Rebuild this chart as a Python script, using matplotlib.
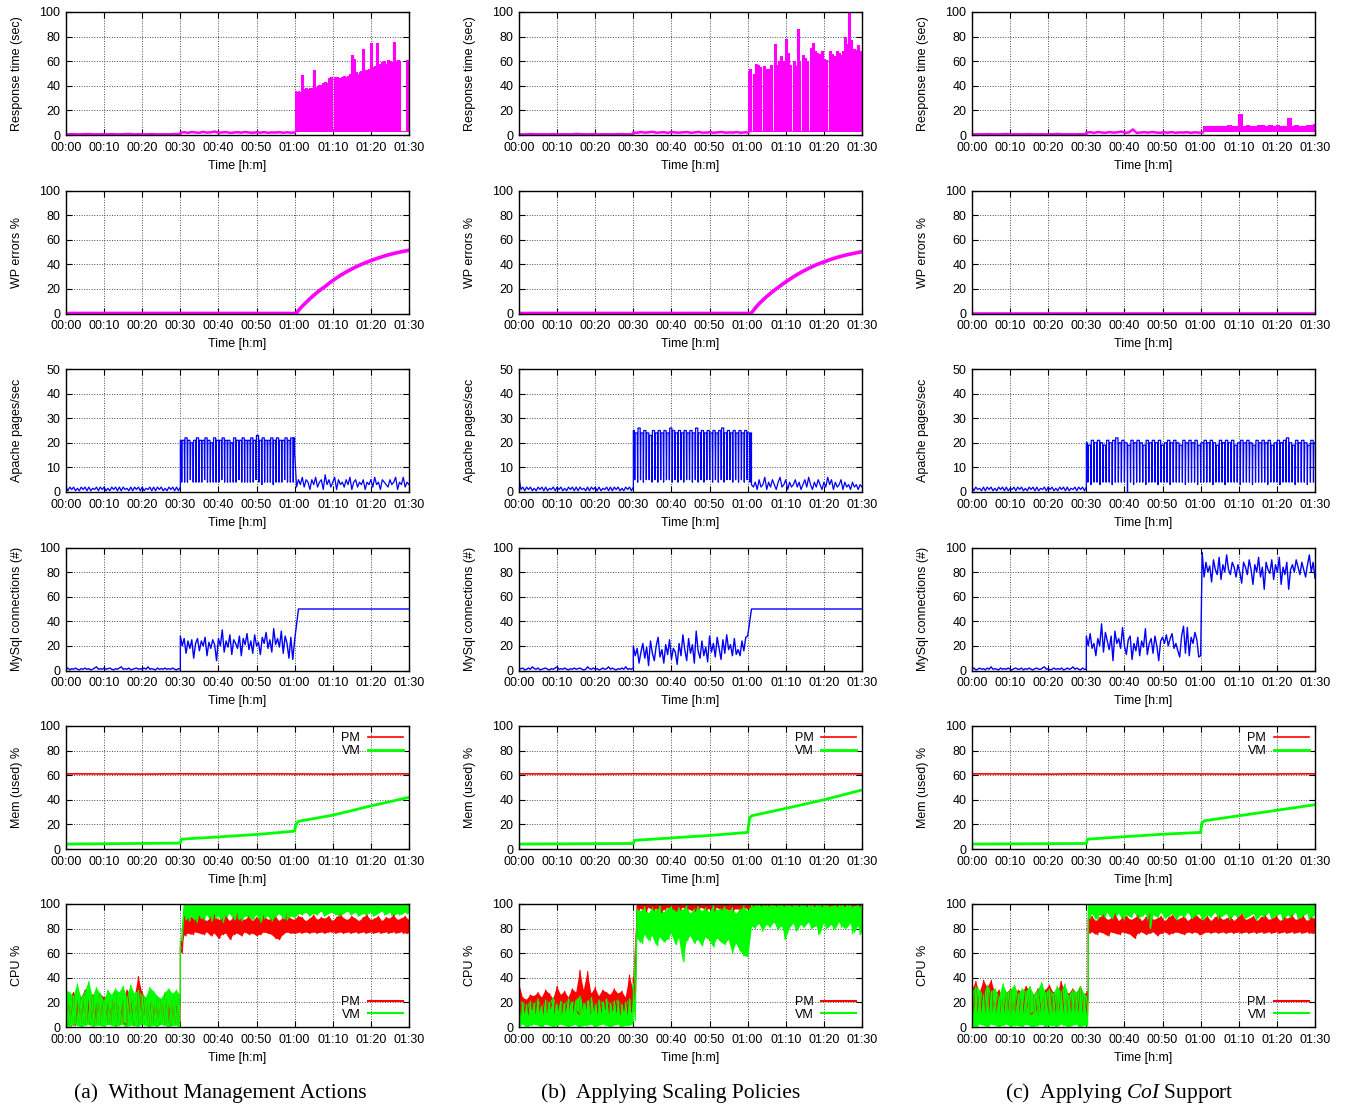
import numpy as np
import matplotlib
matplotlib.use('Agg')
import matplotlib.pyplot as plt

plt.rcParams['font.family'] = 'Liberation Sans'
plt.rcParams['mathtext.fontset'] = 'custom'
plt.rcParams['mathtext.rm'] = 'Liberation Serif'
plt.rcParams['mathtext.it'] = 'Liberation Serif:italic'

MAG = '#ff00ff'
BLUE = '#0000ff'
RED = '#ff0000'
GREEN = '#00ff00'

tick_min = [0, 10, 20, 30, 40, 50, 60, 70, 80, 90]
tick_labels = ['00:00', '00:10', '00:20', '00:30', '00:40', '00:50',
               '01:00', '01:10', '01:20', '01:30']
captions = ['(a)  Without Management Actions',
            '(b)  Applying Scaling Policies',
            '(c)  Applying $\\mathit{CoI}$ Support']

# ---------------- response time (sec) ----------------
rt_a_idle = [0.5, 0.7, 0.5, 0.6, 0.8, 0.5, 0.6, 0.5, 0.7, 0.5, 0.6, 0.9, 0.5, 0.6, 0.5, 0.7, 0.5, 0.6, 0.5, 0.8, 0.6]
rt_a_mid = [1.8, 2.3, 1.7, 2.5, 2.0, 1.8, 2.6, 1.9, 2.2, 2.8, 1.8, 2.1, 2.4, 1.7, 2.0, 2.3,
            1.9, 2.5, 2.0, 1.8, 2.2, 1.9, 2.4, 1.8, 2.1, 2.0, 2.3, 1.8, 2.2, 1.9, 2.0]
rt_a_peak = [36, 35, 36, 35, 49, 37, 38, 37, 38, 38, 53, 39, 40, 41, 41, 42, 43, 42, 46, 47,
             4, 47, 47, 4, 46, 47, 48, 47, 48, 50, 65, 62, 51, 50, 51, 52, 70, 53, 53, 54,
             75, 55, 56, 75, 57, 58, 59, 60, 58, 61, 60, 59, 76, 60, 61, 60, 3, 3, 3, 61, 61]
rt_b_idle = [0.6, 0.5, 0.8, 0.5, 0.6, 0.5, 0.7, 0.5, 0.6, 0.5, 0.9, 0.6, 0.5, 0.7, 0.5, 0.6, 0.5, 0.6, 0.8, 0.5, 0.6]
rt_b_mid = [2.0, 1.8, 2.4, 1.9, 2.2, 2.6, 1.8, 2.1, 2.3, 1.7, 2.5, 2.0, 1.9, 2.2, 2.4, 1.8,
            2.1, 2.6, 1.9, 2.0, 2.3, 1.8, 2.2, 2.5, 1.9, 2.1, 2.0, 2.4, 1.8, 2.2, 2.0]
rt_b_peak = [52, 54, 3, 50, 58, 57, 55, 3, 56, 52, 54, 54, 57, 3, 74, 57, 60, 64, 3, 60,
             78, 67, 57, 3, 60, 56, 86, 59, 3, 65, 63, 60, 3, 71, 75, 68, 67, 3, 66, 68,
             62, 61, 3, 68, 66, 64, 3, 68, 67, 65, 68, 80, 74, 100, 77, 3, 70, 69, 73, 68, 67]
rt_c_idle = [0.5, 0.6, 0.5, 0.7, 0.5, 0.6, 0.8, 0.5, 0.6, 0.5, 0.7, 0.5, 0.6, 0.5, 0.6, 0.9, 0.5, 0.6, 0.5, 0.7, 0.6]
rt_c_mid = [1.8, 2.3, 1.7, 2.5, 2.0, 1.8, 2.4, 1.9, 2.2, 2.8, 1.8, 2.1, 4.5, 1.7, 2.0, 2.3,
            1.9, 2.5, 2.0, 1.8, 2.2, 1.9, 2.4, 1.8, 2.1, 2.0, 2.3, 1.8, 2.2, 1.9, 2.0]
rt_c_peak = [7, 7, 7.5, 7, 7, 7.5, 7, 8, 7, 7.5, 17, 7.5, 8, 7.5, 7, 8.5, 8, 7.5, 8, 7.5,
             8, 7.5, 7.5, 14, 7.5, 8.5, 7.5, 7, 8, 8.5, 9]
rt_floor = 2.5

# ---------------- WP errors % ----------------
wp_a_min = [0, 60.4, 61, 62, 63, 64, 65, 66, 67, 68, 69, 70, 72, 74, 76, 78, 80, 82, 84, 86, 88, 90]
wp_a_pct = [0, 0, 2.5, 6, 9, 12, 14.8, 17.4, 19.8, 22, 24.5, 26.8, 31, 34.6, 37.8, 40.6, 43, 45.2, 47.2, 48.8, 50.2, 51.4]
wp_b_min = [0, 60.8, 61.4, 62, 63, 64, 65, 66, 67, 68, 69, 70, 72, 74, 76, 78, 80, 82, 84, 86, 88, 90]
wp_b_pct = [0, 0, 2, 4.5, 8, 11, 13.8, 16.4, 18.9, 21.2, 23.5, 25.7, 29.8, 33.5, 36.7, 39.6, 42, 44.2, 46.1, 47.7, 49, 50.3]
wp_c_min = [0, 90]
wp_c_pct = [0, 0]

# ---------------- Apache pages/sec ----------------
ap_a_idle = [2, 0.5, 2, 1, 2, 0.5, 1.5, 0.5, 2, 1, 2, 0.5, 2, 0.5, 1.5, 1, 2, 0.5, 2, 1, 2, 0.5, 1.5, 0.5,
             2, 1, 2, 0.5, 2, 0.5, 2, 1, 1.5, 0.5, 2, 0.5, 2, 1, 2, 0.5, 2, 0.5, 1.5, 1, 2, 0.5, 2, 0.5,
             2, 1, 2, 0.5, 1.5, 0.5, 2, 1, 2, 0.5, 2, 0.5, 2]
# plateau levels between the drops, and the bottom of each drop
ap_a_busy_hi = [21, 21, 22, 21, 20, 21, 22, 21, 21, 22, 21, 20, 22, 21, 21, 22, 21, 21, 20, 22, 21,
                21, 22, 21, 21, 22, 21, 23, 21, 22, 21, 21, 22, 21, 22, 21, 21, 22, 21, 22, 22]
ap_a_busy_lo = [4, 4, 4, 5, 4, 4, 4, 4, 5, 4, 4, 4, 4, 4, 5, 4, 4, 4, 4, 4, 5, 4, 4, 4, 4, 4, 5, 4,
                3, 4, 4, 4, 3, 4, 4, 4, 5, 4, 4, 4]
ap_a_after = [16, 2, 5, 3, 6, 2, 5, 4, 1, 5, 3, 6, 2, 4, 5, 1, 7, 3, 5, 2, 4, 6, 1, 5, 3, 4, 2, 5, 3, 6,
              1, 4, 5, 2, 4, 3, 5, 1, 4, 3, 5, 2, 6, 3, 4, 1, 5, 4, 3, 2, 5, 3, 4, 6, 1, 4, 3, 6, 2, 4, 3]
ap_b_idle = [6, 1, 2, 0.5, 2, 1, 2, 0.5, 1.5, 0.5, 2, 1, 2, 0.5, 2, 0.5, 1.5, 1, 2, 0.5, 2, 1, 2, 0.5,
             1.5, 0.5, 2, 1, 2, 0.5, 2, 0.5, 2, 1, 1.5, 0.5, 2, 0.5, 2, 1, 2, 0.5, 2, 0.5, 1.5, 1, 2,
             0.5, 2, 0.5, 2, 1, 2, 0.5, 1.5, 0.5, 2, 1, 2, 0.5, 2]
ap_b_busy_hi = [25, 24, 26, 24, 25, 24, 23, 25, 24, 25, 24, 25, 24, 26, 25, 24, 25, 24, 25, 24, 25,
                24, 26, 24, 25, 24, 25, 24, 25, 24, 25, 26, 24, 25, 24, 25, 24, 25, 24, 25, 24, 24]
ap_b_busy_lo = [5, 4, 5, 4, 5, 5, 4, 5, 4, 5, 4, 5, 5, 4, 5, 4, 5, 4, 5, 5, 4, 5, 4, 5, 4, 5, 5, 4,
                5, 4, 5, 4, 5, 5, 4, 5, 4, 5, 4, 5, 4]
ap_b_after = [3, 2, 4, 1, 5, 2, 3, 6, 1, 4, 2, 5, 3, 1, 4, 6, 2, 3, 5, 1, 4, 2, 3, 5, 2, 4, 1, 3, 5, 2,
              6, 3, 1, 4, 2, 5, 3, 1, 4, 2, 6, 3, 5, 1, 4, 2, 3, 5, 1, 4, 2, 3, 1, 4, 2, 3, 1, 3, 2]
ap_c_idle = [2, 0.5, 2, 1, 1.5, 0.5, 2, 0.5, 2, 1, 2, 0.5, 1.5, 0.5, 2, 1, 2, 0.5, 2, 0.5, 1.5, 1, 2, 0.5,
             2, 1, 2, 0.5, 1.5, 0.5, 2, 1, 2, 0.5, 2, 0.5, 1.5, 1, 2, 0.5, 2, 1, 2, 0.5, 1.5, 0.5, 2, 1,
             2, 0.5, 2, 0.5, 1.5, 1, 2, 0.5, 2, 1, 2, 0.5, 2]
ap_c_busy_hi = [20, 19, 21, 20, 21, 20, 19, 21, 20, 21, 22, 20, 21, 20, 19, 21, 20, 21, 20, 19, 21,
                20, 21, 20, 21, 19, 20, 21, 20, 21, 20, 19, 21, 20, 21, 20, 21, 19, 20, 21, 20, 21,
                20, 19, 21, 20, 21, 20, 21, 19, 20, 21, 20, 21, 20, 19, 21, 20, 21, 20, 21, 19, 20,
                21, 20, 21, 22, 20, 19, 21, 20, 21, 20, 19, 21, 20]
ap_c_busy_lo = [4, 3, 4, 4, 3, 4, 4, 4, 3, 4, 4, 4, 4, 0, 4, 3, 4, 4, 4, 3, 4, 4, 4, 3, 4, 4, 4, 3,
                4, 4, 4, 4, 3, 4, 4, 4, 3, 4, 4, 4, 4, 3, 4, 4, 4, 3, 4, 4, 4, 4, 3, 4, 4, 4, 3, 4,
                4, 4, 4, 3, 4, 4, 4, 3, 4, 4, 4, 4, 3, 4, 4, 4, 3, 4, 4]

# ---------------- MySQL connections (#) ----------------
my_a_idle = [1, 2, 0.5, 1.5, 1, 2, 1, 0.5, 1.5, 1, 2, 1, 1.5, 0.5, 1, 2, 3, 1, 1.5, 1, 2, 1, 1.5, 2,
             1, 0.5, 1.5, 1, 2, 3, 1, 1.5, 1, 2, 0.5, 1, 1.5, 2, 1, 1.5, 1, 2, 1, 3, 1, 1.5, 1, 0.5,
             2, 1, 1.5, 1, 2, 1, 1.5, 1, 2, 1, 0.5, 1.5, 1]
my_a_busy = [28, 20, 26, 14, 24, 18, 25, 10, 22, 26, 16, 24, 20, 27, 12, 23, 18, 25, 21, 8, 26, 20,
             33, 15, 24, 19, 29, 13, 25, 22, 18, 28, 12, 26, 21, 30, 17, 24, 14, 29, 20, 23, 13, 27,
             22, 31, 18, 25, 15, 34, 21, 26, 19, 32, 14, 28, 22, 10, 27, 9, 25]
my_a_ramp = [25, 50]
my_a_flat = [50, 50]
my_b_idle = [1, 1.5, 2, 0.5, 1, 2, 1, 3, 1.5, 1, 2, 0.5, 1, 1.5, 2, 1, 0.5, 1.5, 1, 2, 3, 1, 1.5, 1,
             2, 1, 0.5, 1.5, 1, 2, 1, 1.5, 2, 1, 0.5, 1, 3, 1.5, 1, 2, 1, 1.5, 0.5, 1, 2, 1, 1.5, 3,
             1, 2, 1, 0.5, 1.5, 1, 2, 1, 3, 1, 1.5, 1, 2]
my_b_busy = [20, 12, 18, 6, 15, 22, 10, 19, 4, 24, 14, 8, 20, 27, 11, 17, 6, 21, 13, 25, 9, 18, 15, 5,
             22, 12, 29, 17, 8, 26, 14, 21, 6, 32, 16, 10, 24, 12, 19, 7, 28, 15, 22, 11, 27, 18, 9,
             25, 14, 29, 17, 21, 12, 26, 13, 17, 12, 24, 16, 27, 28]
my_b_ramp = [28, 50]
my_b_flat = [50, 50]
my_c_idle = [1, 2, 0.5, 1, 2, 1, 1.5, 0.5, 2, 1, 3, 1, 1.5, 1, 0.5, 2, 1, 1.5, 1, 2, 1, 0.5, 1.5, 2,
             1, 1, 2, 0.5, 1.5, 1, 2, 1, 0.5, 1.5, 2, 1, 1, 2, 3, 1, 1.5, 0.5, 1, 2, 1, 1.5, 1, 2,
             0.5, 1, 2, 1, 1.5, 3, 1, 2, 1, 0.5, 2, 1, 1]
my_c_busy = [28, 20, 30, 18, 22, 12, 26, 20, 38, 15, 31, 24, 17, 28, 8, 32, 22, 26, 18, 35, 20, 13,
             25, 28, 9, 22, 16, 27, 12, 24, 19, 34, 13, 22, 26, 14, 28, 20, 8, 24, 27, 22, 29, 20,
             26, 30, 18, 22, 16, 11, 28, 36, 14, 35, 12, 27, 22, 31, 25, 11, 12]
my_c_after = [96, 76, 88, 80, 85, 72, 90, 82, 78, 92, 74, 86, 80, 94, 82, 78, 88, 84, 76, 86, 80, 71,
              88, 84, 78, 90, 82, 70, 86, 80, 92, 76, 84, 66, 88, 82, 79, 90, 74, 86, 80, 92, 70, 84,
              78, 88, 66, 82, 86, 80, 90, 84, 78, 88, 82, 76, 86, 94, 80, 88, 75]

# ---------------- memory used % ----------------
mem_pm = [61.1, 61.0, 60.9, 61.1, 61.0, 61.1, 61.0, 60.9, 61.0, 61.1]
mem_vm_a_min = [0, 30, 30.2, 40, 50, 60, 60.3, 61, 70, 80, 90]
mem_vm_a = [4, 4.8, 8, 9.8, 11.8, 14.5, 20, 22.5, 27.5, 35, 42]
mem_vm_b_min = [0, 30, 30.3, 40, 50, 60, 60.5, 61, 70, 80, 90]
mem_vm_b = [4, 4.5, 7, 9, 11, 13.5, 25, 27, 33, 40, 48]
mem_vm_c_min = [0, 30, 30.3, 40, 50, 60, 60.3, 61, 70, 80, 90]
mem_vm_c = [4, 4.5, 8, 10, 12, 13.5, 21, 23, 27, 31.5, 36]

# ---------------- CPU % (upper / lower envelope of the noise) ----------------
cpu_pm_a_hi1 = [22, 25, 28, 21, 24, 30, 22, 26, 20, 27, 24, 21, 23, 28, 25, 22, 30, 27, 24, 41, 28,
                23, 26, 20, 24, 22, 27, 19, 25, 23, 24]
cpu_pm_a_lo1 = [2, 3, 1, 4, 2, 3, 2, 1, 3, 2, 4, 2, 3, 1, 2, 3, 2, 4, 1, 3, 2, 3, 1, 2, 4, 2, 3, 2, 1, 3, 2]
cpu_pm_a_hi2 = [65, 90, 88, 89, 87, 90, 88, 86, 89, 91, 87, 88, 90, 86, 89, 92, 88, 87, 90, 86, 89, 88,
                91, 87, 88, 90, 86, 89, 92, 88, 87, 90, 89, 86, 88, 91, 87, 89, 88, 90, 86, 89, 92, 88,
                87, 90, 88, 86, 89, 91, 87, 88, 90, 86, 89, 88, 91, 87, 88, 90, 87]
cpu_pm_a_lo2 = [60, 74, 76, 75, 77, 76, 75, 77, 74, 76, 72, 75, 76, 71, 75, 76, 74, 77, 75, 76, 74, 75,
                77, 76, 75, 72, 71, 75, 77, 76, 76, 77, 76, 77, 76, 77, 76, 77, 76, 77, 77, 76, 77, 76,
                77, 76, 77, 76, 77, 76, 77, 76, 77, 76, 77, 76, 77, 76, 77, 76, 76]
cpu_vm_a_hi1 = [30, 28, 25, 35, 24, 29, 37, 25, 32, 27, 22, 30, 26, 31, 28, 33, 25, 34, 27, 30, 26,
                24, 32, 29, 25, 23, 28, 31, 27, 30, 26]
cpu_vm_a_lo1 = [1, 0, 2, 1, 0, 1, 2, 0, 1, 1, 0, 2, 1, 0, 1, 2, 0, 1, 1, 0, 2, 1, 0, 1, 0, 2, 1, 0, 1, 1, 0]
cpu_vm_a_hi2 = [70, 100, 99, 100, 99.5, 100, 99, 100, 99.5, 100, 99, 100, 99.5, 100, 99, 100, 99.5,
                100, 99, 100, 99.5, 100, 99, 100, 99.5, 100, 99, 100, 99.5, 100, 99, 100, 99.5, 100,
                99, 100, 99.5, 100, 99, 100, 99.5, 100, 99, 100, 99.5, 100, 99, 100, 99.5, 100, 99,
                100, 99.5, 100, 99, 100, 99.5, 100, 99, 100, 99.5]
cpu_vm_a_lo2 = [70, 88, 86, 90, 85, 89, 87, 91, 86, 88, 90, 85, 89, 92, 87, 88, 86, 90, 89, 87, 91,
                85, 88, 90, 86, 89, 92, 88, 87, 90, 89, 92, 91, 93, 90, 92, 91, 94, 90, 92, 93, 91,
                90, 92, 94, 91, 93, 90, 92, 91, 93, 90, 92, 94, 91, 93, 90, 92, 91, 93, 92]

cpu_pm_b_hi1 = [36, 24, 22, 26, 25, 28, 24, 30, 27, 23, 33, 26, 29, 24, 31, 28, 46, 30, 45, 27, 32,
                25, 30, 28, 26, 31, 27, 29, 24, 42, 30]
cpu_pm_b_lo1 = [8, 12, 10, 14, 11, 13, 10, 12, 15, 11, 13, 10, 12, 14, 11, 13, 10, 12, 14, 11, 13,
                10, 12, 14, 11, 13, 12, 10, 13, 11, 12]
cpu_pm_b_hi2 = [40, 100, 100, 100, 100, 100, 100, 100, 100, 100, 100, 100, 100, 100, 100, 100, 100,
                100, 100, 100, 100, 100, 100, 100, 100, 100, 100, 100, 100, 100, 100, 100, 100, 100,
                100, 100, 100, 100, 100, 100, 100, 100, 100, 100, 100, 100, 100, 100, 100, 100, 100,
                100, 100, 100, 100, 100, 100, 100, 100, 100, 100]
cpu_pm_b_lo2 = [20, 95, 96, 94, 97, 95, 96, 93, 95, 97, 96, 94, 95, 97, 96, 95, 94, 96, 97, 95, 96,
                94, 97, 95, 96, 95, 94, 96, 95, 97, 96, 98, 98, 99, 98, 99, 98, 99, 98, 99, 98, 99,
                98, 99, 98, 99, 98, 99, 98, 99, 98, 99, 98, 99, 98, 99, 98, 99, 98, 99, 98]
cpu_vm_b_hi1 = [22, 20, 18, 21, 19, 23, 17, 22, 20, 24, 18, 21, 19, 23, 20, 22, 25, 19, 21, 24, 18,
                22, 20, 23, 19, 21, 22, 18, 20, 23, 21]
cpu_vm_b_lo1 = [1, 2, 0, 1, 2, 1, 0, 2, 1, 0, 1, 2, 1, 0, 1, 2, 0, 1, 1, 2, 0, 1, 2, 1, 0, 1, 2, 0, 1, 1, 2]
cpu_vm_b_hi2 = [35, 96, 94, 98, 92, 97, 95, 99, 93, 96, 98, 94, 97, 95, 99, 92, 96, 98, 94, 97, 93,
                99, 95, 96, 98, 94, 97, 92, 96, 99, 94, 99, 100, 99, 100, 98, 100, 99, 100, 99, 100,
                98, 100, 99, 100, 99, 100, 98, 100, 99, 100, 99, 98, 100, 99, 100, 99, 100, 98, 100, 99]
cpu_vm_b_lo2 = [5, 72, 68, 75, 70, 74, 66, 73, 69, 71, 76, 67, 72, 53, 70, 74, 68, 71, 66, 73, 70,
                65, 72, 69, 67, 71, 60, 68, 62, 58, 57, 82, 80, 84, 78, 83, 81, 85, 79, 82, 71, 80,
                84, 78, 83, 81, 85, 80, 82, 75, 84, 80, 83, 79, 85, 81, 80, 84, 76, 82, 75]

cpu_pm_c_hi1 = [30, 37, 28, 38, 32, 38, 27, 30, 25, 28, 31, 26, 30, 28, 33, 29, 26, 31, 27, 30, 34,
                28, 26, 37, 29, 27, 31, 28, 33, 26, 30]
cpu_pm_c_lo1 = [8, 10, 12, 9, 11, 10, 12, 9, 11, 10, 8, 12, 10, 9, 11, 10, 12, 9, 10, 11, 9, 12, 10,
                11, 9, 10, 12, 9, 11, 10, 10]
cpu_pm_c_hi2 = [88, 90, 86, 89, 91, 87, 88, 92, 86, 89, 90, 87, 88, 91, 86, 89, 92, 87, 88, 90, 86,
                89, 91, 87, 88, 90, 86, 89, 92, 88, 87, 90, 86, 89, 91, 87, 88, 90, 86, 89, 92, 87,
                88, 90, 86, 89, 91, 87, 88, 90, 86, 89, 88, 91, 87, 88, 90, 86, 89, 88]
cpu_pm_c_lo2 = [76, 77, 75, 77, 76, 74, 77, 76, 75, 77, 76, 75, 72, 76, 77, 75, 76, 77, 74, 76, 77,
                75, 76, 77, 76, 75, 77, 76, 77, 75, 76, 77, 76, 77, 76, 77, 76, 77, 76, 77, 76, 77,
                76, 77, 76, 77, 76, 77, 76, 77, 76, 77, 76, 77, 76, 77, 76, 77, 76, 76]
cpu_vm_c_hi1 = [28, 33, 30, 26, 34, 29, 31, 25, 35, 28, 30, 34, 27, 31, 29, 33, 26, 30, 36, 28, 31,
                27, 33, 29, 35, 26, 30, 28, 33, 27, 24]
cpu_vm_c_lo1 = [1, 0, 2, 1, 0, 2, 1, 0, 1, 2, 0, 1, 1, 0, 2, 1, 0, 1, 2, 0, 1, 1, 0, 2, 1, 0, 1, 2, 0, 1, 1]
cpu_vm_c_hi2 = [100, 99, 100, 99.5, 100, 99, 100, 99.5, 100, 99, 100, 99.5, 100, 99, 100, 99.5, 100,
                99, 100, 99.5, 100, 99, 100, 99.5, 100, 99, 100, 99.5, 100, 99, 100, 99.5, 100, 99,
                100, 99.5, 100, 99, 100, 99.5, 100, 99, 100, 99.5, 100, 99, 100, 99.5, 100, 99, 100,
                99.5, 100, 99, 100, 99.5, 100, 99, 100, 99.5]
cpu_vm_c_lo2 = [88, 92, 87, 91, 89, 93, 88, 90, 92, 87, 91, 89, 93, 88, 90, 92, 80, 91, 89, 93, 88,
                90, 92, 87, 91, 89, 93, 88, 90, 92, 87, 91, 89, 93, 88, 90, 92, 87, 91, 89, 93, 88,
                90, 92, 87, 91, 89, 93, 88, 90, 92, 87, 91, 89, 93, 88, 90, 92, 87, 91]


def series(parts):
    t = np.concatenate([np.linspace(a, b, len(v)) for a, b, v in parts])
    y = np.concatenate([np.asarray(v, float) for a, b, v in parts])
    return t, y


def zigzag(t0, t1, hi, lo):
    # samples alternate between the upper and lower envelope of the noise
    th = np.linspace(t0, t1, len(hi))
    tl = np.linspace(t0, t1, len(lo) + 1)[:-1] + (t1 - t0) / (2 * len(lo))
    t = np.concatenate([th, tl])
    y = np.concatenate([np.asarray(hi, float), np.asarray(lo, float)])
    o = np.argsort(t, kind='stable')
    return t[o], y[o]


def comb(t0, t1, hi, lo, w=0.1):
    # flat plateaus (hi) broken by short drops (lo)
    n = len(lo)
    tc = np.linspace(t0, t1, n + 1)[:-1] + (t1 - t0) / (2 * n)
    t = [t0]
    y = [hi[0]]
    for k in range(n):
        t += [tc[k] - w, tc[k], tc[k] + w]
        y += [hi[k], lo[k], hi[k + 1]]
    t.append(t1)
    y.append(hi[n])
    return np.array(t), np.array(y, float)


def cpu_band(ax, brk, hi1, lo1, hi2, lo2, color, label):
    for t0, t1, hi, lo in [(0, brk, hi1, lo1), (brk, 90, hi2, lo2)]:
        th = np.linspace(t0, t1, len(hi))
        tl = np.linspace(t0, t1, len(lo))
        ax.fill(np.r_[th, tl[::-1]], np.r_[hi, lo[::-1]], color=color, lw=0)
    t1_, y1_ = zigzag(0, brk, hi1, lo1)
    t2_, y2_ = zigzag(brk, 90, hi2, lo2)
    ax.plot(np.r_[t1_, t2_], np.r_[y1_, y2_], color=color, lw=0.9, label=label)


def style(ax, ymax, ystep, ylabel):
    ax.set_xlim(0, 90)
    ax.set_ylim(0, ymax)
    ax.set_xticks(tick_min)
    ax.set_xticklabels(tick_labels)
    ax.set_yticks(np.arange(0, ymax + 1, ystep))
    ax.tick_params(direction='in', top=True, right=True, length=4, width=0.8, labelsize=9)
    ax.tick_params(axis='x', pad=5)
    ax.tick_params(axis='y', pad=4)
    ax.grid(True, color='0.3', linestyle=(0, (1, 1.6)), linewidth=0.7)
    ax.set_axisbelow(True)
    ax.set_xlabel('Time [h:m]', fontsize=9)
    ax.set_ylabel(ylabel, fontsize=9)
    ax.xaxis.set_label_coords(0.5, -0.2)
    ax.yaxis.set_label_coords(-0.125, 0.5)
    for s in ax.spines.values():
        s.set_linewidth(1.0)


fig = plt.figure(figsize=(13.45, 11.06), dpi=100)
col_left = [66, 519, 972]
row_top = [12, 190.5, 369, 547.5, 726, 904]
W, H = 343, 123
axes = [[fig.add_axes([cl / 1345, 1 - (rt + H) / 1106, W / 1345, H / 1106]) for cl in col_left]
        for rt in row_top]

# row 1: response time
rt_sets = [(rt_a_idle, rt_a_mid, rt_a_peak, 60), (rt_b_idle, rt_b_mid, rt_b_peak, 60.2),
           (rt_c_idle, rt_c_mid, rt_c_peak, 60.5)]
for ax, (idle, mid, peak, start) in zip(axes[0], rt_sets):
    t, y = series([(0, 30, idle), (30, start, mid)])
    ax.plot(t, y, color=MAG, lw=1.8)
    tp = np.linspace(start, 90, len(peak))
    ax.fill_between(tp, rt_floor, peak, step='mid', color=MAG, lw=0)
    ax.plot(tp, peak, color=MAG, lw=0.8, drawstyle='steps-mid')
    style(ax, 100, 20, 'Response time (sec)')

# row 2: WP errors
for ax, (tm, pc) in zip(axes[1], [(wp_a_min, wp_a_pct), (wp_b_min, wp_b_pct), (wp_c_min, wp_c_pct)]):
    ax.plot(tm, pc, color=MAG, lw=2.6)
    style(ax, 100, 20, 'WP errors %')

# row 3: apache pages/sec
ap_sets = [(ap_a_idle, 60, ap_a_busy_hi, ap_a_busy_lo, ap_a_after),
           (ap_b_idle, 61, ap_b_busy_hi, ap_b_busy_lo, ap_b_after),
           (ap_c_idle, 90, ap_c_busy_hi, ap_c_busy_lo, None)]
for ax, (idle, end, hi, lo, after) in zip(axes[2], ap_sets):
    t0, y0 = series([(0, 30, idle)])
    tb, yb = comb(30, end, hi, lo)
    t = np.r_[t0, tb]
    y = np.r_[y0, yb]
    if after is not None:
        ta, ya = series([(end, 90, after)])
        t = np.r_[t, ta]
        y = np.r_[y, ya]
    ax.plot(t, y, color=BLUE, lw=0.9)
    style(ax, 50, 10, 'Apache pages/sec')

# row 4: mysql connections
my_sets = [[(0, 30, my_a_idle), (30, 60, my_a_busy), (60, 61, my_a_ramp), (61, 90, my_a_flat)],
           [(0, 30, my_b_idle), (30, 60, my_b_busy), (60, 61, my_b_ramp), (61, 90, my_b_flat)],
           [(0, 30, my_c_idle), (30, 60, my_c_busy), (60.4, 90, my_c_after)]]
for ax, parts in zip(axes[3], my_sets):
    t, y = series(parts)
    ax.plot(t, y, color=BLUE, lw=1.0)
    style(ax, 100, 20, 'MySql connections (#)')

# row 5: memory
mem_sets = [(mem_vm_a_min, mem_vm_a), (mem_vm_b_min, mem_vm_b), (mem_vm_c_min, mem_vm_c)]
for ax, (tm, vm) in zip(axes[4], mem_sets):
    tp, yp = series([(0, 90, mem_pm)])
    ax.plot(tp, yp, color=RED, lw=1.2, label='PM')
    ax.plot(tm, vm, color=GREEN, lw=2.0, label='VM')
    style(ax, 100, 20, 'Mem (used) %')
    ax.legend(loc='upper right', frameon=False, markerfirst=False, fontsize=9,
              handlelength=2.8, handletextpad=0.6, labelspacing=0.05,
              borderpad=0.1, borderaxespad=0.4)

# row 6: CPU
cpu_sets = [(30, cpu_pm_a_hi1, cpu_pm_a_lo1, cpu_pm_a_hi2, cpu_pm_a_lo2,
             cpu_vm_a_hi1, cpu_vm_a_lo1, cpu_vm_a_hi2, cpu_vm_a_lo2),
            (30, cpu_pm_b_hi1, cpu_pm_b_lo1, cpu_pm_b_hi2, cpu_pm_b_lo2,
             cpu_vm_b_hi1, cpu_vm_b_lo1, cpu_vm_b_hi2, cpu_vm_b_lo2),
            (30.5, cpu_pm_c_hi1, cpu_pm_c_lo1, cpu_pm_c_hi2, cpu_pm_c_lo2,
             cpu_vm_c_hi1, cpu_vm_c_lo1, cpu_vm_c_hi2, cpu_vm_c_lo2)]
for ax, s in zip(axes[5], cpu_sets):
    cpu_band(ax, s[0], s[1], s[2], s[3], s[4], RED, 'PM')
    cpu_band(ax, s[0], s[5], s[6], s[7], s[8], GREEN, 'VM')
    style(ax, 100, 20, 'CPU %')
    leg = ax.legend(loc='lower right', frameon=False, markerfirst=False, fontsize=9,
                    handlelength=2.8, handletextpad=0.6, labelspacing=0.05,
                    borderpad=0.1, borderaxespad=0.4)
    for h in leg.get_lines():
        h.set_linewidth(1.5)

cap_x = [220, 671, 1119]
for cx, cap in zip(cap_x, captions):
    fig.text(cx / 1345, 1 - 1093 / 1106, cap, ha='center', va='center',
             family='Liberation Serif', fontsize=15.5)

fig.savefig('out.png', dpi=100)
